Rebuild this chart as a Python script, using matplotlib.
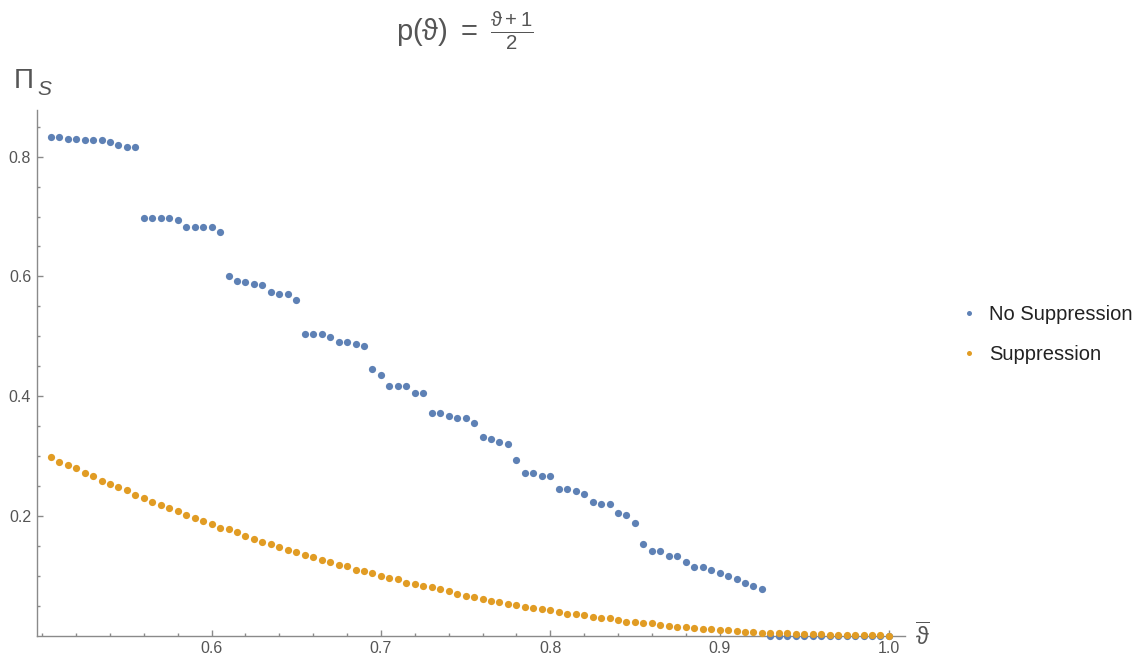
import numpy as np
import matplotlib
matplotlib.use("Agg")
import matplotlib.pyplot as plt
from matplotlib.ticker import FixedLocator
from matplotlib.lines import Line2D

plt.rcParams['font.family'] = ['Liberation Sans', 'DejaVu Sans']
plt.rcParams['mathtext.fontset'] = 'custom'
plt.rcParams['mathtext.rm'] = 'Liberation Sans'
plt.rcParams['mathtext.it'] = 'Liberation Sans:italic'
plt.rcParams['mathtext.sf'] = 'Liberation Sans'
plt.rcParams['mathtext.fallback'] = 'stixsans'

# ---- data ----
theta = np.round(np.arange(101, 201) * 0.005, 3)   # 0.505 ... 1.000

no_suppression = [
    0.833, 0.833, 0.830, 0.830, 0.828, 0.828, 0.828, 0.825, 0.819, 0.816, 0.816,
    0.698, 0.698, 0.698, 0.698, 0.695, 0.682, 0.682, 0.682, 0.682, 0.674,
    0.601, 0.592, 0.590, 0.587, 0.585, 0.574, 0.571, 0.571, 0.561,
    0.504, 0.504, 0.504, 0.498, 0.490, 0.490, 0.487, 0.484,
    0.445, 0.436, 0.417, 0.417, 0.417, 0.406, 0.406,
    0.372, 0.372, 0.366, 0.363, 0.363, 0.355,
    0.331, 0.328, 0.323, 0.320,
    0.293, 0.272, 0.272, 0.267, 0.267,
    0.245, 0.245, 0.242, 0.236, 0.223, 0.220, 0.220,
    0.204, 0.201, 0.188,
    0.153, 0.142, 0.142, 0.132, 0.132, 0.123, 0.115, 0.115, 0.110, 0.104,
    0.099, 0.094, 0.088, 0.083, 0.078,
    0.0, 0.0, 0.0, 0.0, 0.0, 0.0, 0.0, 0.0, 0.0, 0.0, 0.0, 0.0, 0.0, 0.0, 0.0,
]

suppression = [
    0.2988, 0.2904, 0.2854, 0.2804, 0.2720, 0.2670, 0.2581, 0.2531, 0.2476, 0.2426,
    0.2342, 0.2292, 0.2236, 0.2180, 0.2125, 0.2075, 0.2019, 0.1963, 0.1913, 0.1858,
    0.1801, 0.1774, 0.1724, 0.1668, 0.1612, 0.1557, 0.1529, 0.1479, 0.1423, 0.1395,
    0.1345, 0.1317, 0.1261, 0.1233, 0.1183, 0.1156, 0.1100, 0.1072, 0.1050, 0.0994,
    0.0966, 0.0939, 0.0883, 0.0860, 0.0832, 0.0805, 0.0772, 0.0744, 0.0693, 0.0665,
    0.0638, 0.0610, 0.0582, 0.0554, 0.0532, 0.0504, 0.0476, 0.0465, 0.0448, 0.0421,
    0.0393, 0.0365, 0.0360, 0.0337, 0.0315, 0.0287, 0.0285, 0.0259, 0.0231, 0.0230,
    0.0204, 0.0202, 0.0175, 0.0165, 0.0150, 0.0140, 0.0125, 0.0115, 0.0105, 0.0095,
    0.0085, 0.0075, 0.0065, 0.0058, 0.0050, 0.0045, 0.0040, 0.0035, 0.0030, 0.0025,
    0.0022, 0.0018, 0.0015, 0.0012, 0.0009, 0.0006, 0.0004, 0.0002, 0.0001, 0.0,
]

series_labels = ["No Suppression", "Suppression"]
x_major = [0.6, 0.7, 0.8, 0.9, 1.0]
x_major_labels = ["0.6", "0.7", "0.8", "0.9", "1.0"]
y_major = [0.2, 0.4, 0.6, 0.8]
y_major_labels = ["0.2", "0.4", "0.6", "0.8"]

BLUE = '#5E81B5'
ORANGE = '#E19C24'
AXC = '#8a8a8a'
TXT = '#555555'

W, H = 1146, 662
fig = plt.figure(figsize=(W / 100, H / 100), dpi=100)
fig.patch.set_facecolor('white')

L, R, B, T = 36.7, 905.0, 635.5, 110.0
ax = fig.add_axes([L / W, 1 - B / H, (R - L) / W, (B - T) / H])
ax.set_xlim(0.4967, 1.0095)
ax.set_ylim(0.0, 0.878)

ax.plot(theta, no_suppression, 'o', color=BLUE, ms=5.2, mec='none', clip_on=False, zorder=3)
ax.plot(theta, suppression, 'o', color=ORANGE, ms=5.2, mec='none', clip_on=False, zorder=4)

for s in ['top', 'right']:
    ax.spines[s].set_visible(False)
for s in ['left', 'bottom']:
    ax.spines[s].set_color(AXC)
    ax.spines[s].set_linewidth(1.0)

ax.set_xticks(x_major)
ax.set_xticklabels(x_major_labels)
ax.set_yticks(y_major)
ax.set_yticklabels(y_major_labels)
ax.xaxis.set_minor_locator(FixedLocator([0.5, 0.52, 0.54, 0.56, 0.58, 0.62, 0.64, 0.66, 0.68,
                                         0.72, 0.74, 0.76, 0.78, 0.82, 0.84, 0.86, 0.88,
                                         0.92, 0.94, 0.96, 0.98]))
ax.yaxis.set_minor_locator(FixedLocator([0.05, 0.1, 0.15, 0.25, 0.3, 0.35, 0.45, 0.5, 0.55,
                                         0.65, 0.7, 0.75, 0.85]))
ax.tick_params(which='both', direction='in', color=AXC, width=1.0,
               labelcolor=TXT, labelsize=11.5)
ax.tick_params(which='major', length=4.5)
ax.tick_params(which='minor', length=2.3)
ax.tick_params(axis='x', which='major', pad=4)
ax.tick_params(axis='y', which='major', pad=4)

# title
fig.text(465 / W, 1 - 31 / H,
         r'$\mathrm{p(ϑ)\ =\ }\frac{\mathrm{ϑ+1}}{\mathrm{2}}$',
         ha='center', va='center', fontsize=21, color=TXT)

# y label  Π_S
fig.text(14 / W, 1 - 88 / H, 'Π', fontsize=20, color=TXT, ha='left', va='baseline')
fig.text(37 / W, 1 - 95 / H, 'S', fontsize=15, color=TXT, ha='left', va='baseline',
         style='italic')

# x label  ϑ̄
fig.text(922 / W, 1 - 637 / H, r'$\overline{\mathrm{ϑ}}$', fontsize=17, color=TXT,
         ha='center', va='center')

handles = [Line2D([], [], ls='none', marker='o', color=BLUE, ms=3.6, mec='none'),
           Line2D([], [], ls='none', marker='o', color=ORANGE, ms=3.6, mec='none')]
fig.legend(handles, series_labels, loc='upper left',
           bbox_to_anchor=(963 / W, 1 - 305 / H), frameon=False,
           fontsize=14.5, borderpad=0, borderaxespad=0, handlelength=0.6,
           handletextpad=0.7, labelspacing=1.03, labelcolor='#222222')

fig.savefig('out.png', dpi=100)
